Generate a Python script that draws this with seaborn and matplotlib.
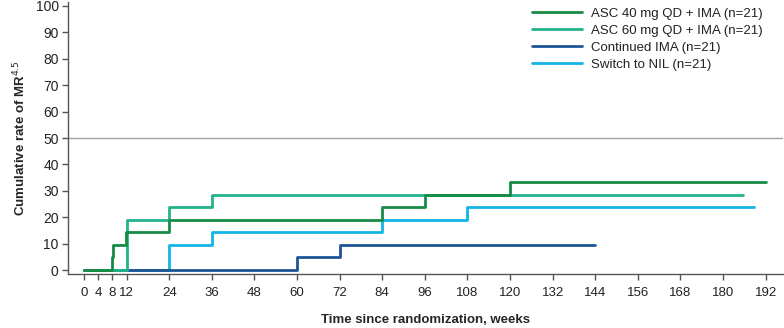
import matplotlib
matplotlib.use("Agg")
import matplotlib.pyplot as plt
import seaborn as sns
import pandas as pd
from matplotlib.lines import Line2D

# ---- data (weeks, cumulative % MR4.5) ----
asc40_t = [0, 7.8, 8.1, 11.9, 24, 84, 96, 120, 192]
asc40_v = [0, 4.76, 9.52, 14.29, 19.05, 23.81, 28.57, 33.33, 33.33]
asc60_t = [0, 12.0, 12.2, 24, 36, 185.5]
asc60_v = [0, 14.29, 19.05, 23.81, 28.57, 28.57]
ima_t = [0, 60, 72, 144]
ima_v = [0, 4.76, 9.52, 9.52]
nil_t = [0, 24, 36, 84, 108, 188.7]
nil_v = [0, 9.52, 14.29, 19.05, 23.81, 23.81]

labels = ["ASC 40 mg QD + IMA (n=21)", "ASC 60 mg QD + IMA (n=21)",
          "Continued IMA (n=21)", "Switch to NIL (n=21)"]
colors = ["#178a45", "#22b28a", "#1f5596", "#14b4e6"]
x_ticks = [0, 4, 8, 12, 24, 36, 48, 60, 72, 84, 96, 108, 120, 132, 144, 156, 168, 180, 192]
y_ticks = list(range(0, 101, 10))

series = [(labels[0], asc40_t, asc40_v), (labels[1], asc60_t, asc60_v),
          (labels[2], ima_t, ima_v), (labels[3], nil_t, nil_v)]
frames = [pd.DataFrame({"week": t, "rate": v, "group": g}) for g, t, v in series]
df = pd.concat(frames, ignore_index=True)

sns.set_theme(style="ticks")
plt.rcParams["font.family"] = ["Liberation Sans", "DejaVu Sans"]
plt.rcParams["text.color"] = "#222222"

fig = plt.figure(figsize=(7.84, 3.28), dpi=100)
ax = fig.add_axes([67.7 / 784, 1 - 274 / 328, (782.7 - 67.7) / 784, (274 - 2) / 328])

ax.axhline(50, color="#a6a6a6", lw=1.0, zorder=1)

# draw order: bottom to top
order = [labels[3], labels[2], labels[1], labels[0]]
pal = dict(zip(labels, colors))
for g in order:
    sub = df[df["group"] == g]
    sns.lineplot(data=sub, x="week", y="rate", color=pal[g], lw=2.0,
                 drawstyle="steps-post", estimator=None, sort=False,
                 ax=ax, legend=False, zorder=3)

ax.set_xlim(-4.6, 196.8)
ax.set_ylim(-1.5, 101.5)
ax.set_xticks(x_ticks)
ax.set_yticks(y_ticks)
ax.tick_params(axis="both", length=4.5, width=1, color="#555555",
               labelcolor="#222222", pad=2)
ax.tick_params(axis="y", labelsize=10)
ax.tick_params(axis="x", labelsize=9.5, pad=5)
for s in ["top", "right"]:
    ax.spines[s].set_visible(False)
for s in ["left", "bottom"]:
    ax.spines[s].set_color("#555555")
    ax.spines[s].set_linewidth(1)

ax.set_xlabel("Time since randomization, weeks", fontsize=9.5, fontweight="bold", labelpad=11)
ax.set_ylabel("Cumulative rate of MR$^{4.5}$", fontsize=9.5, fontweight="bold", labelpad=5)

handles = [Line2D([0], [0], color=c, lw=2) for c in colors]
fig.legend(handles, labels, loc="upper left", bbox_to_anchor=(531.7 / 784, 0.976),
           frameon=False, fontsize=9.5, handlelength=3.8, handletextpad=0.7,
           labelspacing=0.36, borderpad=0, borderaxespad=0)

fig.savefig("out.png", dpi=100)
